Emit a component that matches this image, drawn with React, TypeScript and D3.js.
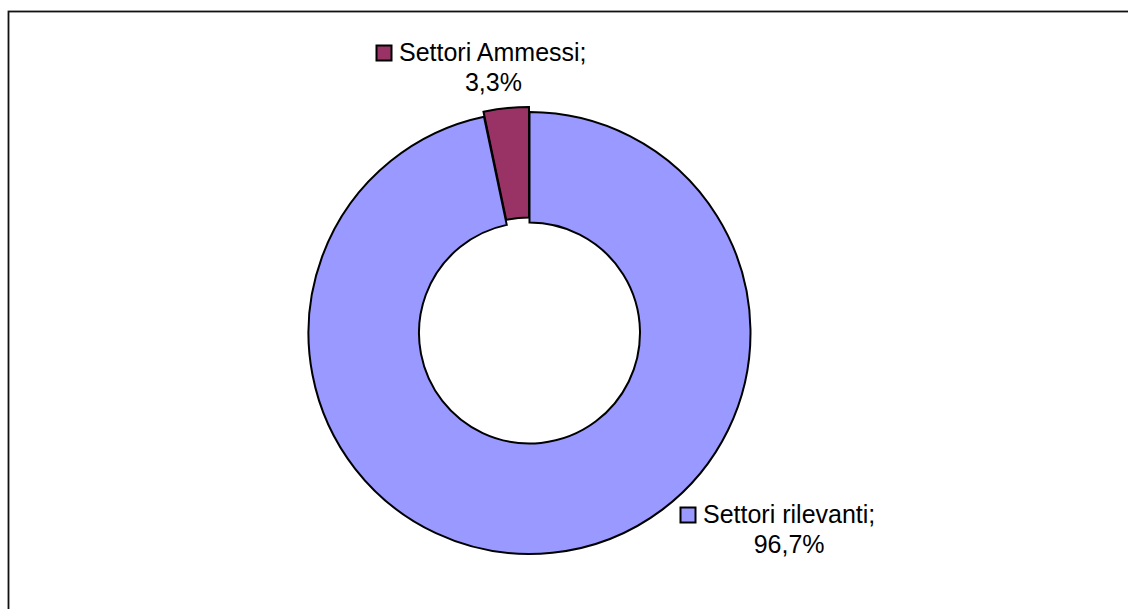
import React from "react";
import * as d3 from "d3";

const categories = ["Settori Ammessi", "Settori rilevanti"];
const values = [3.3, 96.7];
const labels = ["3,3%", "96,7%"];
const colors = ["#993366", "#9999FF"];

const W = 1128;
const H = 609;
const cx = 529.5;
const cy = 333;
const R = 221;
const r = 110.5;
const explode = 5;
const fontSize = 25;
const font = "'Liberation Sans', Arial, sans-serif";

export default function App() {
  const total = d3.sum(values);
  const start = -(values[0] / total) * 2 * Math.PI;
  const pie = d3
    .pie<number>()
    .sort(null)
    .value((d) => d)
    .startAngle(start)
    .endAngle(start + 2 * Math.PI);
  const arcs = pie(values);
  const arcGen = d3.arc<d3.PieArcDatum<number>>().innerRadius(r).outerRadius(R);

  const labelPos = [
    { x: 399, y: 61 },
    { x: 703, y: 523 },
  ];

  const textWidth = (s: string) => {
    const w: Record<string, number> = {
      S: 0.667, e: 0.556, t: 0.278, o: 0.556, r: 0.333, i: 0.222, " ": 0.278,
      A: 0.667, m: 0.833, s: 0.5, ";": 0.278, l: 0.222, v: 0.5, a: 0.556, n: 0.556,
    };
    let sum = 0;
    for (const c of s) sum += w[c] ?? 0.556;
    return sum * fontSize;
  };

  return (
    <svg
      width={W}
      height={H}
      style={{ position: "absolute", left: 0, top: 0, background: "#fff" }}
    >
      <rect x={8.5} y={11.5} width={1200} height={700} fill="none" stroke="#111" strokeWidth={1.8} />
      {arcs.map((a, i) => {
        let dx = 0;
        let dy = 0;
        if (i === 0) {
          const mid = (a.startAngle + a.endAngle) / 2;
          dx = Math.sin(mid) * explode;
          dy = -Math.cos(mid) * explode;
        }
        return (
          <path
            key={i}
            d={arcGen(a) || ""}
            transform={`translate(${cx + dx},${cy + dy})`}
            fill={colors[i]}
            stroke="#000"
            strokeWidth={2}
            strokeLinejoin="miter"
          />
        );
      })}
      {categories.map((c, i) => {
        const p = labelPos[i];
        const line1 = c + ";";
        const tw = textWidth(line1);
        return (
          <g key={c} fontFamily={font} fontSize={fontSize} fill="#000">
            <rect
              x={p.x - 22.5}
              y={p.y - 15.5}
              width={15}
              height={15}
              fill={colors[i]}
              stroke="#000"
              strokeWidth={2}
            />
            <text x={p.x} y={p.y}>
              {line1}
            </text>
            <text x={p.x + tw / 2} y={p.y + 30} textAnchor="middle">
              {labels[i]}
            </text>
          </g>
        );
      })}
    </svg>
  );
}
